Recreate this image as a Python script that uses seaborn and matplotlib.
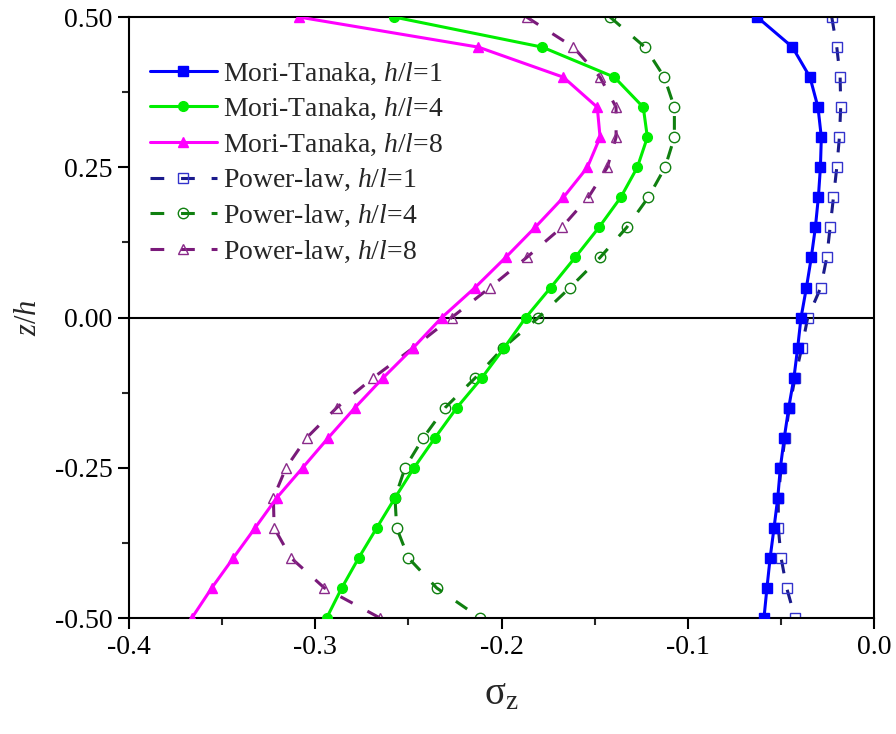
import numpy as np
import pandas as pd
import seaborn as sns
import matplotlib
matplotlib.use("Agg")
import matplotlib.pyplot as plt

# Through-thickness coordinate z/h
z = [0.50, 0.45, 0.40, 0.35, 0.30, 0.25, 0.20, 0.15, 0.10, 0.05, 0.00,
     -0.05, -0.10, -0.15, -0.20, -0.25, -0.30, -0.35, -0.40, -0.45, -0.50]

# sigma_z
mt_1 = [-0.0627, -0.0438, -0.0344, -0.0301, -0.0283, -0.0288, -0.0299, -0.0315, -0.0337, -0.0363, -0.0392,
        -0.0410, -0.0430, -0.0458, -0.0482, -0.0503, -0.0517, -0.0537, -0.0558, -0.0575, -0.0591]
mt_4 = [-0.2575, -0.1781, -0.1394, -0.1239, -0.1217, -0.1271, -0.1360, -0.1477, -0.1605, -0.1736, -0.1870,
        -0.1985, -0.2105, -0.2240, -0.2357, -0.2470, -0.2572, -0.2670, -0.2767, -0.2858, -0.2939]
mt_8 = [-0.3086, -0.2124, -0.1668, -0.1486, -0.1471, -0.1539, -0.1668, -0.1820, -0.1978, -0.2142, -0.2321,
        -0.2473, -0.2635, -0.2787, -0.2930, -0.3068, -0.3207, -0.3323, -0.3440, -0.3556, -0.3663]
pl_1 = [-0.0227, -0.0200, -0.0182, -0.0179, -0.0186, -0.0200, -0.0218, -0.0236, -0.0254, -0.0286, -0.0356,
        -0.0388, -0.0424, -0.0455, -0.0478, -0.0499, -0.0514, -0.0514, -0.0499, -0.0469, -0.0424]
pl_4 = [-0.1417, -0.1230, -0.1126, -0.1072, -0.1072, -0.1122, -0.1212, -0.1328, -0.1471, -0.1632, -0.1802,
        -0.1990, -0.2140, -0.2303, -0.2420, -0.2518, -0.2572, -0.2563, -0.2500, -0.2348, -0.2115]
pl_8 = [-0.1865, -0.1614, -0.1471, -0.1385, -0.1385, -0.1432, -0.1534, -0.1677, -0.1865, -0.2062, -0.2268,
        -0.2473, -0.2688, -0.2885, -0.3046, -0.3157, -0.3225, -0.3221, -0.3130, -0.2951, -0.2652]

labels = ["Mori-Tanaka, $\\mathit{h/l}$=1", "Mori-Tanaka, $\\mathit{h/l}$=4", "Mori-Tanaka, $\\mathit{h/l}$=8",
          "Power-law, $\\mathit{h/l}$=1", "Power-law, $\\mathit{h/l}$=4", "Power-law, $\\mathit{h/l}$=8"]

sns.set_theme(style="ticks")
plt.rcParams["font.family"] = ["Liberation Serif", "DejaVu Serif"]
plt.rcParams["mathtext.fontset"] = "custom"
plt.rcParams["mathtext.rm"] = "Liberation Serif"
plt.rcParams["mathtext.it"] = "Liberation Serif:italic"

fig = plt.figure(figsize=(8.96, 7.34), dpi=100)
ax = fig.add_axes([0.144, 0.158, 0.8315, 0.8187])

ax.axhline(0, color="black", linewidth=1.5, zorder=1)

# solid Mori-Tanaka curves
solid = [(mt_1, "#0000FF", "s"), (mt_4, "#00EE00", "o"), (mt_8, "#FF00FF", "^")]
for (vals, col, mk), lab in zip(solid, labels[:3]):
    sns.lineplot(x=vals, y=z, sort=False, estimator=None, ax=ax, color=col,
                 linewidth=2.2, marker=mk, markersize=7, markerfacecolor=col,
                 markeredgecolor=col, markeredgewidth=1, label=lab, zorder=3)

# dashed power-law curves, open markers
dashed = [(pl_1, "#1A1A8C", "s", "#3333CC"), (pl_4, "#108010", "o", "#108010"),
          (pl_8, "#7A1A7A", "^", "#8A2A8A")]
for (vals, col, mk, mec), lab in zip(dashed, labels[3:]):
    sns.lineplot(x=vals, y=z, sort=False, estimator=None, ax=ax, color=col,
                 linewidth=2.2, linestyle=(0, (4.5, 5.5)), marker=mk, markersize=7.5,
                 markerfacecolor="none", markeredgecolor=mec, markeredgewidth=1,
                 label=lab, zorder=2)

ax.set_xlim(-0.4, 0.0)
ax.set_ylim(-0.5, 0.5)
ax.set_xticks([-0.4, -0.3, -0.2, -0.1, 0.0])
ax.set_xticklabels(["-0.4", "-0.3", "-0.2", "-0.1", "0.0"])
ax.set_yticks([-0.5, -0.25, 0.0, 0.25, 0.5])
ax.set_yticklabels(["-0.50", "-0.25", "0.00", "0.25", "0.50"])
ax.set_xticks(np.arange(-0.35, 0.0, 0.1), minor=True)
ax.set_yticks([-0.375, -0.125, 0.125, 0.375], minor=True)

for s in ax.spines.values():
    s.set_linewidth(1.5)
    s.set_color("black")
ax.tick_params(which="major", direction="out", length=8, width=1.5, labelsize=20,
               colors="black", pad=4)
ax.tick_params(which="minor", direction="out", length=5, width=1.5)
ax.tick_params(which="both", top=False, right=False)

ax.set_xlabel("$\\mathregular{σ_z}$", fontsize=28, labelpad=12)
ax.set_ylabel("$\\mathit{z/h}$", fontsize=22, labelpad=8)

handles, labs = ax.get_legend_handles_labels()
ax.legend(handles, labs, loc="upper left", bbox_to_anchor=(0.028, 0.928),
          frameon=False, fontsize=20, handlelength=2.4, handletextpad=0.25,
          labelspacing=0.34, borderpad=0, borderaxespad=0)

fig.savefig("out.png", dpi=100)
